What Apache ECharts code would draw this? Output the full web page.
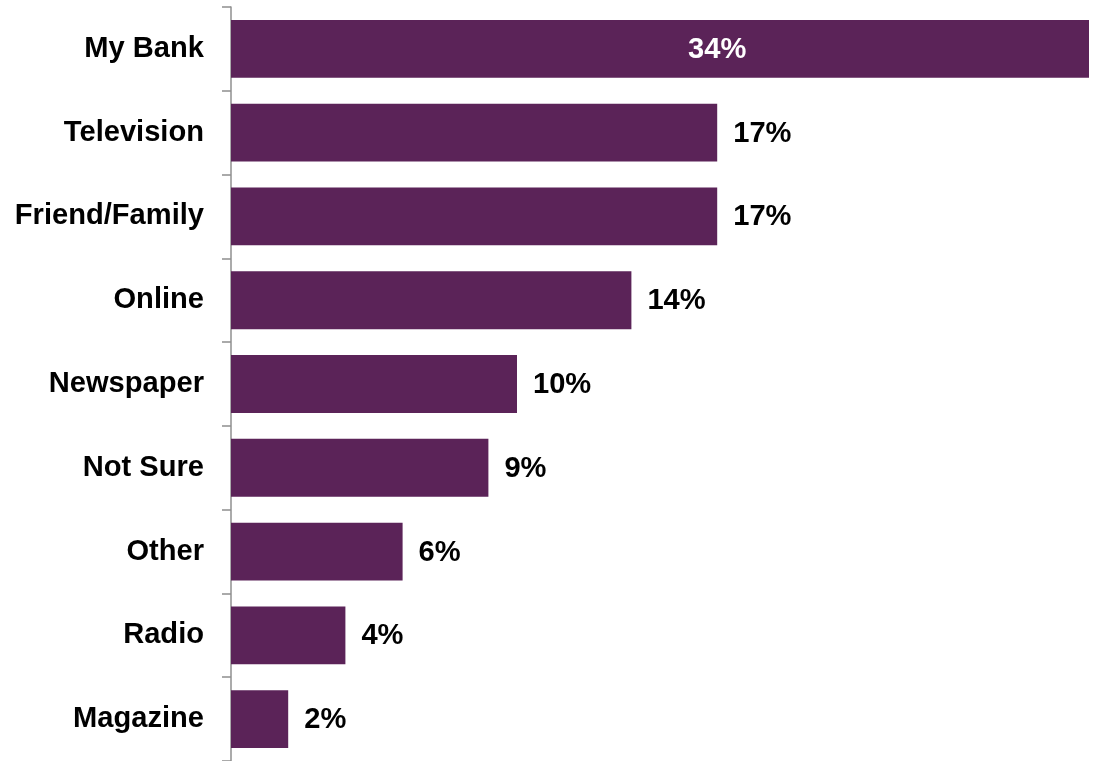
<!DOCTYPE html>
<html>
<head>
<meta charset="utf-8">
<script src="https://cdn.jsdelivr.net/npm/echarts@6/dist/echarts.min.js"></script>
<style>
  html, body { margin: 0; padding: 0; background: #fff; }
  #chart { width: 1093px; height: 761px; }
</style>
</head>
<body>
<div id="chart"></div>
<script>
// Where people heard about it (share of respondents, %)
const categories = ['My Bank', 'Television', 'Friend/Family', 'Online', 'Newspaper', 'Not Sure', 'Other', 'Radio', 'Magazine'];
const values = [34, 17, 17, 14, 10, 9, 6, 4, 2];

const AXIS_MAX = 30;
const FONT = '"Liberation Sans", Arial, sans-serif';
const FONT_SIZE = 29.1;
const BAR_COLOR = '#5B2358';
const AXIS_COLOR = '#8F8F8F';

const chart = echarts.init(document.getElementById('chart'), null, { renderer: 'canvas' });

function buildData(insideOffset) {
  return values.map(function (v) {
    if (v > AXIS_MAX) {
      // Bar runs past the axis end: label sits in the middle of the full-length bar
      return {
        value: v,
        label: {
          position: 'inside',
          color: '#fff',
          offset: [insideOffset, 1]
        }
      };
    }
    return v;
  });
}

const option = {
  animation: false,
  grid: { left: 231, right: 4, top: 7, height: 757, containLabel: false },
  xAxis: {
    type: 'value',
    min: 0,
    max: AXIS_MAX,
    show: false
  },
  yAxis: {
    type: 'category',
    data: categories,
    inverse: true,
    axisLine: { show: true, lineStyle: { color: AXIS_COLOR, width: 1.5 } },
    axisTick: { show: true, length: 9, lineStyle: { color: AXIS_COLOR, width: 1.5 } },
    axisLabel: {
      margin: 27,
      color: '#000',
      fontFamily: FONT,
      fontWeight: 'bold',
      fontSize: FONT_SIZE,
      padding: [2, 0, 0, 0]
    }
  },
  series: [{
    type: 'bar',
    data: buildData(0),
    barCategoryGap: '31%',
    clip: true,
    itemStyle: { color: BAR_COLOR },
    label: {
      show: true,
      position: 'right',
      distance: 16,
      offset: [0, 1],
      formatter: '{c}%',
      color: '#000',
      fontFamily: FONT,
      fontWeight: 'bold',
      fontSize: FONT_SIZE
    }
  }]
};

chart.setOption(option);

// Shift the inside label from the clipped bar's centre to the full bar's centre
const maxVal = Math.max.apply(null, values);
const xFull = chart.convertToPixel({ gridIndex: 0 }, [maxVal, 0])[0];
const xEnd = chart.convertToPixel({ gridIndex: 0 }, [AXIS_MAX, 0])[0];
chart.setOption({ series: [{ data: buildData((xFull - xEnd) / 2) }] });
</script>
</body>
</html>
